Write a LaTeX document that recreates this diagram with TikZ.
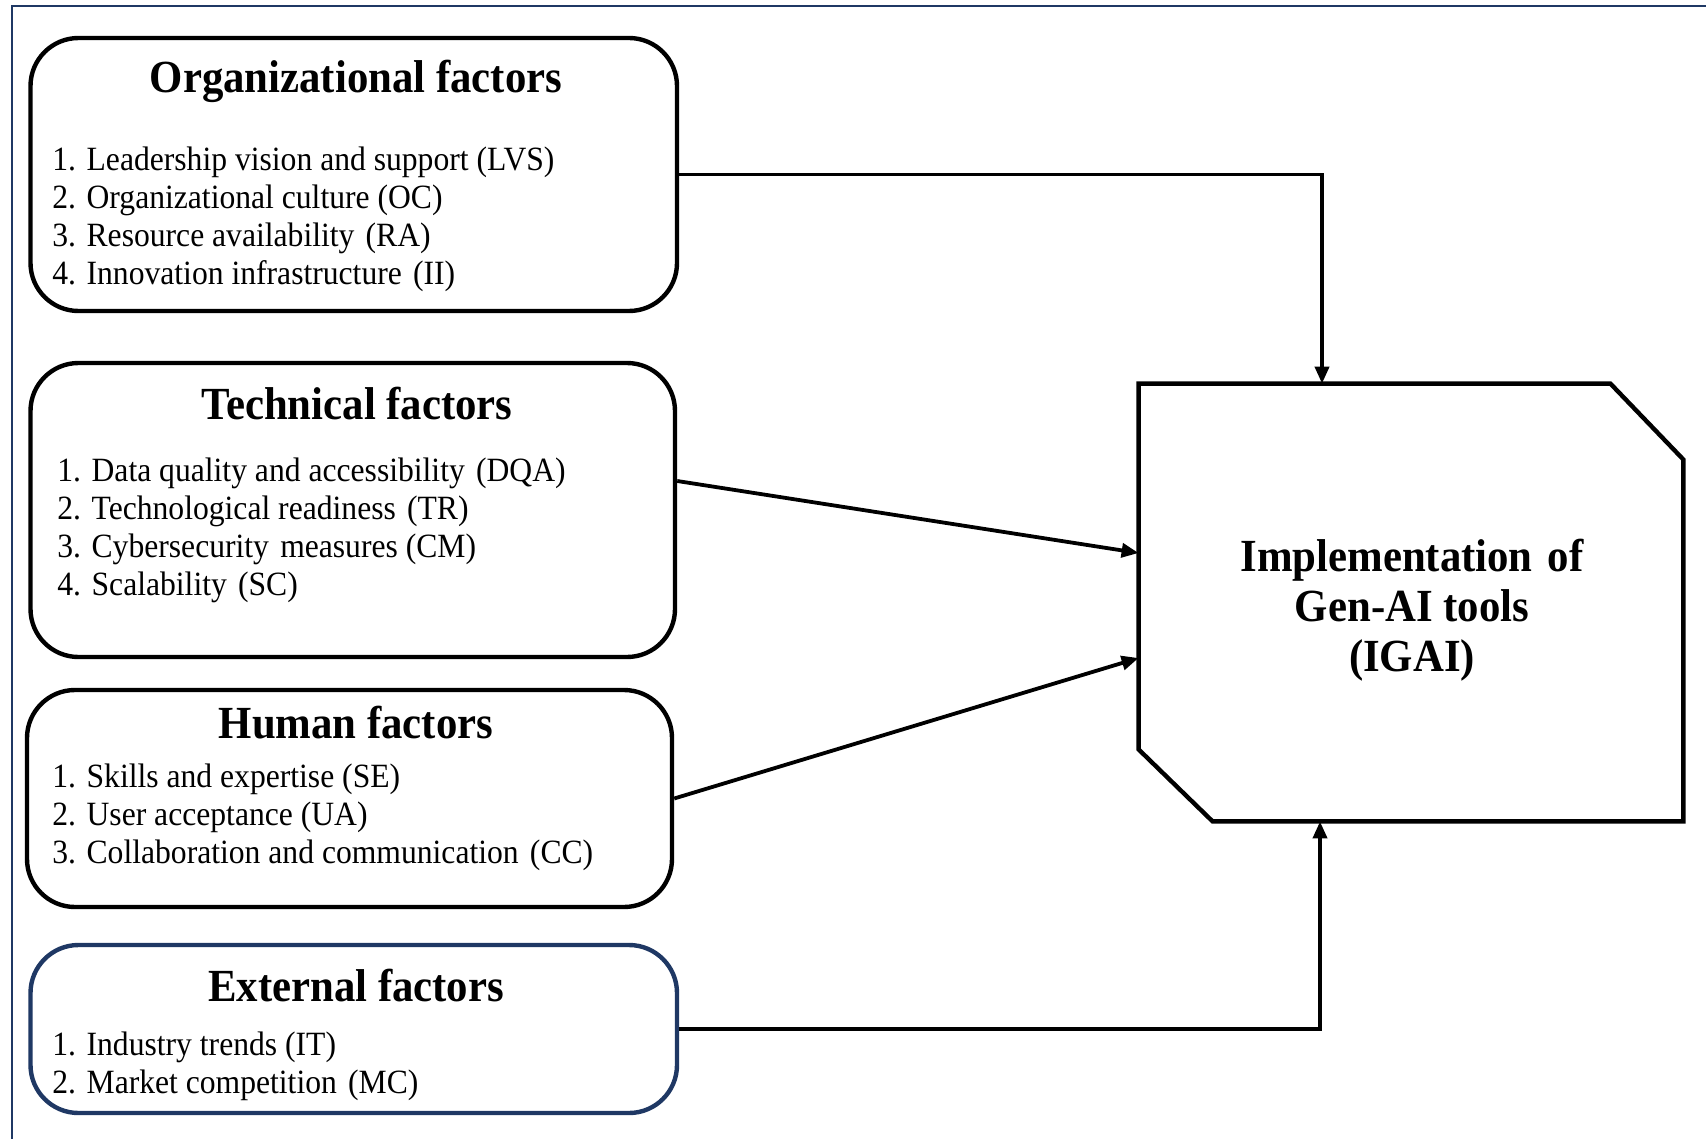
\documentclass[tikz,border=0pt]{standalone}
\usepackage{fontspec}
\setmainfont{Liberation Serif}[FakeStretch=0.93]
\usetikzlibrary{arrows.meta,calc}
\definecolor{navy}{HTML}{1F3864}
\newcommand{\xsp}{\hspace{0.33em}}
\begin{document}
\begin{tikzpicture}[x=0.5pt,y=-0.5pt,
  factorbox/.style={draw,line width=2.2pt,rounded corners=24pt,inner sep=0pt},
  titletext/.style={font=\bfseries\fontsize{23pt}{25pt}\selectfont,inner sep=0pt},
  itemtext/.style={font=\fontsize{17pt}{19pt}\selectfont,align=left,anchor=west,inner sep=0pt},
  conn/.style={line width=1.9pt,-{Triangle[length=8.5pt,width=7pt]}},
  ]
\useasboundingbox (0,0) rectangle (1706,1139);
\draw[navy,line width=1.1pt] (12,1139) -- (12,6) -- (1706,6);

% factor boxes
\node[factorbox,minimum width=323.25pt,minimum height=136.5pt] (org) at (353.75,174.5) {};
\node[factorbox,minimum width=322.25pt,minimum height=147pt] (tech) at (352.75,510) {};
\node[factorbox,minimum width=322.5pt,minimum height=108.5pt] (human) at (349.5,798.5) {};
\node[factorbox,draw=navy,minimum width=323.25pt,minimum height=84pt] (ext) at (353.75,1029) {};

% titles
\node[titletext] (orgt) at (356,81) {Organizational factors};
\node[titletext] (techt) at (357,404) {Technical factors};
\node[titletext] (humant) at (356,723) {Human factors};
\node[titletext] (extt) at (356,986) {External factors};

% items
\node[itemtext] (orgi) at (52,219) {1. Leadership vision and support (LVS)\\2. Organizational culture (OC)\\3. Resource availability\xsp(RA)\\4. Innovation infrastructure\xsp(II)};
\node[itemtext] (techi) at (57,530) {1. Data quality and accessibility\xsp(DQA)\\2. Technological readiness\xsp(TR)\\3. Cybersecurity\xsp measures (CM)\\4. Scalability\xsp(SC)};
\node[itemtext] (humani) at (52,817.5) {1. Skills and expertise (SE)\\2. User acceptance (UA)\\3. Collaboration and communication\xsp(CC)};
\node[itemtext] (exti) at (52,1066.5) {1. Industry trends (IT)\\2. Market competition\xsp(MC)};

% IGAI
\node[minimum width=272pt,minimum height=218.5pt,inner sep=0pt] (igai) at (1411,602.5) {};
\draw[line width=2.2pt,line join=miter]
  (igai.north west) -- ([xshift=-36.5pt]igai.north east) -- ([yshift=-38pt]igai.north east)
  -- (igai.south east) -- ([xshift=37pt]igai.south west) -- ([yshift=36pt]igai.south west) -- cycle;
\node[titletext,align=center] (igait) at (1412,610) {Implementation\xsp of\\Gen-AI tools\\(IGAI)};

% connectors
\draw[conn] (org.east) -| ([xshift=-44.5pt]igai.north);
\draw[conn] ([yshift=14.5pt]tech.east) -- ([yshift=24.75pt]igai.west);
\draw[conn] (human.east) -- ([yshift=-27.75pt]igai.west);
\draw[conn] (ext.east) -| ([xshift=-45.5pt]igai.south);
\end{tikzpicture}
\end{document}
